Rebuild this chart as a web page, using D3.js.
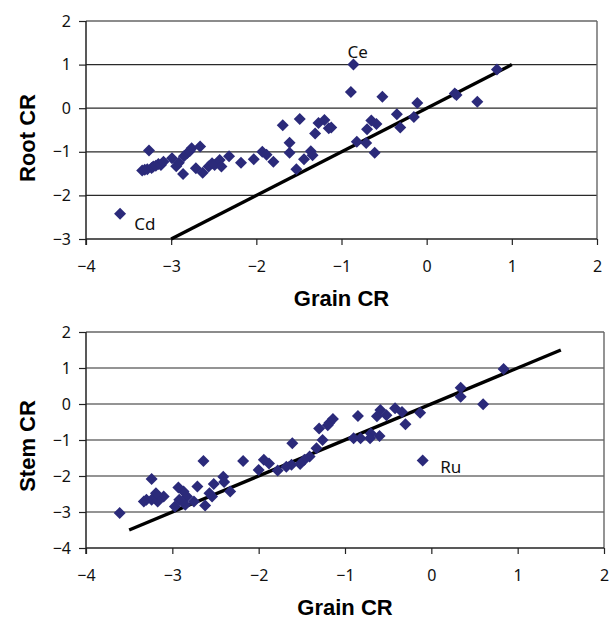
<!DOCTYPE html>
<html>
<head>
<meta charset="utf-8">
<script src="https://cdn.jsdelivr.net/npm/d3@7"></script>
<style>
  html, body { margin: 0; padding: 0; background: #fff; }
  svg { display: block; }
</style>
</head>
<body>
<svg id="chart" width="615" height="619"></svg>
<script>
// ---------- DATA ----------
const rootGrainX = [-3.60,-3.34,-3.31,-3.28,-3.26,-3.23,-3.21,-3.18,-3.15,-3.12,-3.09,-2.99,-2.94,-2.91,-2.86,-2.85,-2.81,-2.78,-2.76,-2.66,-2.71,-2.63,-2.56,-2.52,-2.49,-2.43,-2.41,-2.32,-2.18,-2.03,-1.93,-1.88,-1.80,-1.69,-1.61,-1.61,-1.53,-1.49,-1.44,-1.36,-1.34,-1.31,-1.27,-1.20,-1.15,-1.12,-0.89,-0.86,-0.82,-0.71,-0.70,-0.65,-0.61,-0.59,-0.52,-0.35,-0.31,-0.15,-0.11,0.33,0.35,0.595,0.825];
const rootY      = [-2.42,-1.43,-1.41,-1.40,-0.97,-1.37,-1.34,-1.32,-1.28,-1.30,-1.23,-1.15,-1.33,-1.25,-1.51,-1.10,-1.03,-0.98,-0.92,-0.88,-1.38,-1.48,-1.34,-1.26,-1.30,-1.19,-1.34,-1.10,-1.25,-1.17,-1.00,-1.07,-1.23,-0.39,-0.79,-1.02,-1.40,-0.25,-1.17,-0.99,-1.08,-0.58,-0.34,-0.27,-0.46,-0.44,0.37,1.00,-0.77,-0.80,-0.48,-0.28,-1.02,-0.36,0.26,-0.14,-0.44,-0.20,0.12,0.34,0.30,0.15,0.89];

const stemGrainX = [0.837,0.34,0.34,0.60,-0.13,-0.10,-0.30,-0.42,-0.34,-0.59,-0.52,-0.63,-0.85,-0.60,-0.70,-0.71,-0.82,-0.90,-1.14,-1.18,-1.20,-1.30,-1.26,-1.33,-1.41,-1.47,-1.52,-1.61,-1.62,-1.68,-1.78,-1.88,-1.94,-2.00,-2.18,-2.64,-2.41,-2.40,-2.33,-2.52,-2.54,-2.57,-2.62,-2.71,-2.75,-2.83,-2.85,-2.87,-2.93,-2.92,-2.97,-3.24,-3.10,-3.17,-3.19,-3.24,-3.30,-3.33,-3.61];
const stemY      = [0.97,0.45,0.20,-0.01,-0.24,-1.57,-0.56,-0.12,-0.22,-0.17,-0.31,-0.34,-0.33,-0.89,-0.82,-0.95,-0.95,-0.95,-0.42,-0.52,-0.59,-0.68,-1.00,-1.23,-1.46,-1.55,-1.67,-1.09,-1.69,-1.74,-1.85,-1.65,-1.55,-1.83,-1.58,-1.58,-2.02,-2.17,-2.43,-2.22,-2.57,-2.48,-2.82,-2.29,-2.71,-2.57,-2.80,-2.43,-2.32,-2.66,-2.85,-2.08,-2.57,-2.71,-2.48,-2.66,-2.66,-2.71,-3.03];

const rootLineX = [-3, 1];   // 1:1 line
const stemLineX = [-3.5, 1.5];

const xTicks = [-4, -3, -2, -1, 0, 1, 2];
const rootYTicks = [-3, -2, -1, 0, 1, 2];
const stemYTicks = [-4, -3, -2, -1, 0, 1, 2];

const rootLabels = [{t: "Ce", x: -0.81, y: 1.30}, {t: "Cd", x: -3.31, y: -2.65}];
const stemLabels = [{t: "Ru", x: 0.225, y: -1.74}];

// ---------- DRAW ----------
const svg = d3.select("#chart");
const tickFont = "'Noto Sans', 'Open Sans', sans-serif";
const titleFont = "'Liberation Sans', Arial, sans-serif";
const markColor = "#2b2a7a";
const fmt = d => (d < 0 ? "\u2212" + Math.abs(d) : String(d));

function panel(opt) {
  const x = d3.scaleLinear().domain([-4, 2]).range([opt.left, opt.right]);
  const y = d3.scaleLinear().domain(opt.yDomain).range([opt.bottom, opt.top]);
  const g = svg.append("g");

  g.selectAll("line.grid").data(opt.yTicks.filter(d => d !== opt.yDomain[1] && d !== opt.yDomain[0]))
    .join("line").attr("class", "grid")
    .attr("x1", opt.left).attr("x2", opt.right)
    .attr("y1", d => y(d)).attr("y2", d => y(d))
    .attr("stroke", "#2a2a2a").attr("stroke-width", 1.2);

  g.append("line").attr("x1", opt.left).attr("x2", opt.right)
    .attr("y1", opt.top).attr("y2", opt.top)
    .attr("stroke", "#666").attr("stroke-width", 1.4);
  g.append("line").attr("x1", opt.right).attr("x2", opt.right)
    .attr("y1", opt.top).attr("y2", opt.bottom)
    .attr("stroke", "#666").attr("stroke-width", 1.4);

  const xAxis = d3.axisBottom(x).tickValues(xTicks).tickFormat(fmt).tickSize(6).tickPadding(16);
  const yAxis = d3.axisLeft(y).tickValues(opt.yTicks).tickFormat(fmt).tickSize(7).tickPadding(8);
  const gx = g.append("g").attr("transform", `translate(0,${opt.bottom})`).call(xAxis);
  const gy = g.append("g").attr("transform", `translate(${opt.left},0)`).call(yAxis);
  [gx, gy].forEach(a => {
    a.select(".domain").attr("stroke", "#222").attr("stroke-width", 1.5);
    a.selectAll(".tick line").attr("stroke", "#222").attr("stroke-width", 1.2);
    a.selectAll(".tick text").attr("font-family", tickFont).attr("font-size", 16).attr("fill", "#111");
  });
  gx.select(".domain").attr("d", `M${opt.left},0H${opt.right}`);
  gy.select(".domain").attr("d", `M0,${opt.top}V${opt.bottom + 6}`);

  g.append("line")
    .attr("x1", x(opt.lineX[0])).attr("y1", y(opt.lineX[0]))
    .attr("x2", x(opt.lineX[1])).attr("y2", y(opt.lineX[1]))
    .attr("stroke", "#000").attr("stroke-width", 3.4).attr("stroke-linecap", "butt");

  const r = 6;
  const diamond = `M0,${-r}L${r},0L0,${r}L${-r},0Z`;
  g.selectAll("path.pt").data(opt.xs.map((v, i) => [v, opt.ys[i]]))
    .join("path").attr("class", "pt")
    .attr("d", diamond)
    .attr("transform", d => `translate(${x(d[0])},${y(d[1])})`)
    .attr("fill", markColor);

  g.selectAll("text.lab").data(opt.labels).join("text").attr("class", "lab")
    .attr("x", d => x(d.x)).attr("y", d => y(d.y))
    .attr("text-anchor", "middle").attr("dominant-baseline", "central")
    .attr("font-family", tickFont).attr("font-size", 17).attr("fill", "#111")
    .text(d => d.t);

  g.append("text")
    .attr("x", (opt.left + opt.right) / 2).attr("y", opt.xTitleY)
    .attr("text-anchor", "middle")
    .attr("font-family", titleFont).attr("font-weight", "bold").attr("font-size", 22)
    .attr("fill", "#000").text("Grain CR");
  g.append("text")
    .attr("transform", `translate(${opt.yTitleX},${opt.yTitleCY}) rotate(-90)`)
    .attr("text-anchor", "middle").attr("dominant-baseline", "central")
    .attr("font-family", titleFont).attr("font-weight", "bold").attr("font-size", 22)
    .attr("fill", "#000").text(opt.yTitle);
}

panel({
  left: 86, right: 597, top: 21, bottom: 239,
  yDomain: [-3, 2], yTicks: rootYTicks,
  xs: rootGrainX, ys: rootY, lineX: rootLineX, labels: rootLabels,
  xTitleY: 306, yTitleX: 27, yTitleCY: 138, yTitle: "Root CR"
});
panel({
  left: 86, right: 604, top: 332, bottom: 548,
  yDomain: [-4, 2], yTicks: stemYTicks,
  xs: stemGrainX, ys: stemY, lineX: stemLineX, labels: stemLabels,
  xTitleY: 615, yTitleX: 27, yTitleCY: 446, yTitle: "Stem CR"
});
</script>
</body>
</html>
